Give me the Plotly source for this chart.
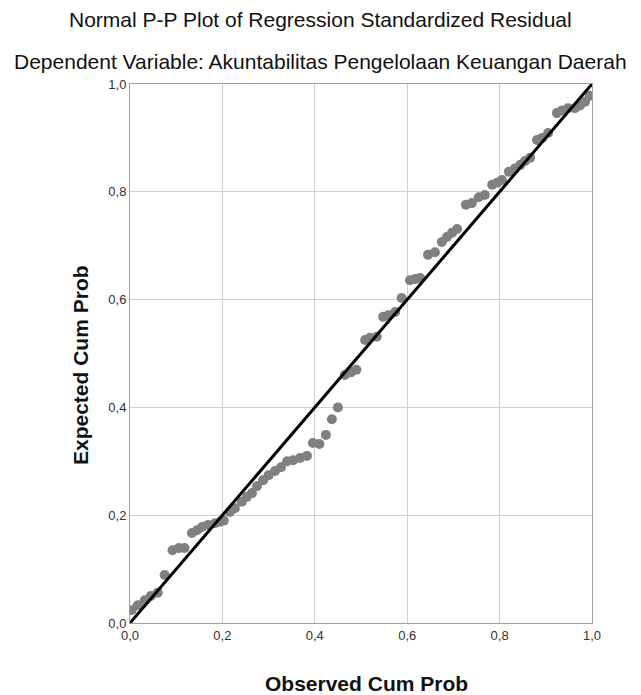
import plotly.graph_objects as go

observed = [0.004, 0.017, 0.032, 0.045, 0.060, 0.075, 0.092, 0.106, 0.118, 0.134,
            0.145, 0.156, 0.169, 0.184, 0.195, 0.203, 0.216, 0.227, 0.242, 0.253,
            0.264, 0.275, 0.288, 0.300, 0.314, 0.327, 0.340, 0.353, 0.368, 0.383,
            0.396, 0.410, 0.424, 0.437, 0.450, 0.465, 0.478, 0.490, 0.509, 0.519,
            0.534, 0.548, 0.559, 0.574, 0.588, 0.606, 0.617, 0.628, 0.645, 0.660,
            0.675, 0.686, 0.697, 0.708, 0.727, 0.740, 0.755, 0.768, 0.784, 0.795,
            0.805, 0.820, 0.833, 0.845, 0.855, 0.866, 0.881, 0.892, 0.905, 0.924,
            0.935, 0.948, 0.963, 0.974, 0.985, 0.995]
expected = [0.024, 0.033, 0.042, 0.050, 0.056, 0.089, 0.135, 0.139, 0.139, 0.167,
            0.172, 0.178, 0.182, 0.185, 0.188, 0.190, 0.206, 0.213, 0.225, 0.234,
            0.241, 0.254, 0.265, 0.274, 0.282, 0.289, 0.300, 0.302, 0.306, 0.310,
            0.334, 0.332, 0.349, 0.378, 0.400, 0.460, 0.465, 0.470, 0.525, 0.529,
            0.531, 0.568, 0.571, 0.577, 0.603, 0.636, 0.638, 0.640, 0.683, 0.688,
            0.707, 0.716, 0.724, 0.731, 0.776, 0.779, 0.790, 0.794, 0.813, 0.817,
            0.822, 0.837, 0.843, 0.850, 0.857, 0.863, 0.896, 0.900, 0.909, 0.946,
            0.951, 0.955, 0.955, 0.960, 0.967, 0.978]
ref_line = [0.0, 1.0]
tick_vals = [0.0, 0.2, 0.4, 0.6, 0.8, 1.0]

title1 = "Normal P-P Plot of Regression Standardized Residual"
title2 = "Dependent Variable: Akuntabilitas Pengelolaan Keuangan Daerah"
x_title = "Observed Cum Prob"
y_title = "Expected Cum Prob"

font = "Liberation Sans, Arial, sans-serif"

W, H = 641, 695
l, r, t, b = 130, 49, 84, 72
pw, ph = W - l - r, H - t - b


def px_x(px):
    return (px - l) / pw


def px_y(py):
    return (H - b - py) / ph


fig = go.Figure()
fig.add_trace(go.Scatter(x=observed, y=expected, mode="markers",
                         marker=dict(size=10, color="#808080"),
                         hoverinfo="skip", showlegend=False))
fig.add_trace(go.Scatter(x=ref_line, y=ref_line, mode="lines",
                         line=dict(color="black", width=3),
                         hoverinfo="skip", showlegend=False))

axis_common = dict(range=[0, 1], tickvals=tick_vals, tickformat=".1f",
                   showgrid=True, gridcolor="#d0d0d0", gridwidth=1,
                   showline=True, linecolor="#a0a0a0", linewidth=1, mirror=True,
                   zeroline=False, ticks="",
                   tickfont=dict(family=font, size=13, color="#333333"),
                   fixedrange=True)

title_font = dict(family=font, size=21, color="#111111")
axis_title_font = dict(family=font, size=21, color="#111111")

fig.update_layout(
    width=W, height=H,
    margin=dict(l=l, r=r, t=t, b=b),
    paper_bgcolor="white", plot_bgcolor="white",
    separators=",.",
    xaxis=dict(**axis_common),
    yaxis=dict(**axis_common),
    annotations=[
        dict(text=title1, x=px_x(W / 2), y=px_y(19), xref="paper", yref="paper",
             showarrow=False, xanchor="center", yanchor="middle", font=title_font),
        dict(text=title2, x=px_x(W / 2), y=px_y(62), xref="paper", yref="paper",
             showarrow=False, xanchor="center", yanchor="middle", font=title_font),
        dict(text="<b>" + x_title + "</b>", x=px_x(366), y=px_y(683), xref="paper", yref="paper",
             showarrow=False, xanchor="center", yanchor="middle", font=axis_title_font),
        dict(text="<b>" + y_title + "</b>", x=px_x(80), y=px_y(365), xref="paper", yref="paper",
             showarrow=False, xanchor="center", yanchor="middle", textangle=-90,
             font=axis_title_font),
    ],
)

fig.write_html("out.html", config={"displayModeBar": False},
               post_script="document.body.style.margin='0';")
